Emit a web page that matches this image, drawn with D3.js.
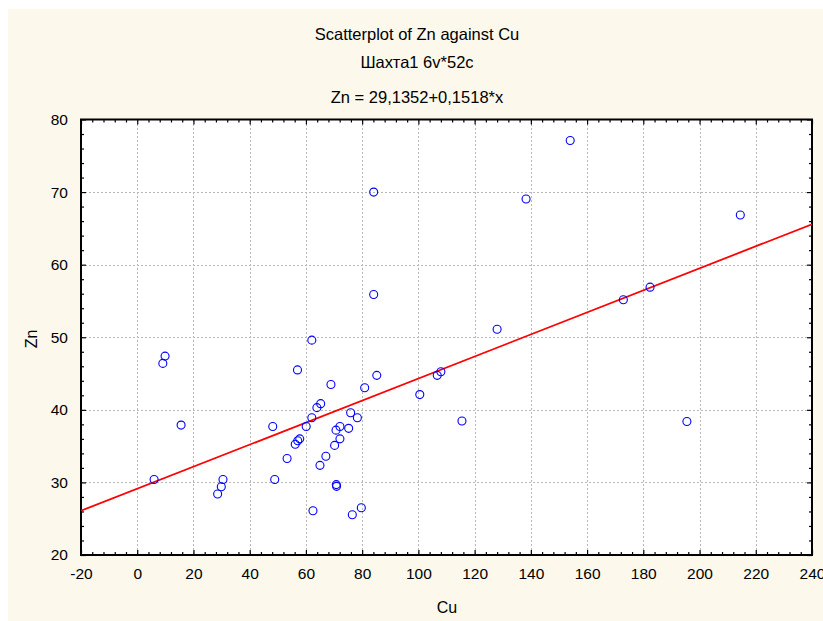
<!DOCTYPE html>
<html>
<head>
<meta charset="utf-8">
<script src="https://cdn.jsdelivr.net/npm/d3@7"></script>
<style>
  html, body { margin: 0; padding: 0; background: #ffffff; }
  svg { display: block; }
  text { font-family: "Liberation Sans", Arial, sans-serif; fill: #000; }
</style>
</head>
<body>
<div id="chart"></div>
<script>
// ---- Data ----
const cuValues = [6.0, 9.1, 9.9, 15.6, 28.6, 29.9, 30.5, 48.2, 48.9, 53.3,
  57.0, 62.1, 56.2, 57.1, 57.8, 60.1, 62.1, 63.9, 65.25, 68.9,
  65.0, 67.1, 62.5, 70.2, 70.7, 72.1, 72.1, 70.8, 70.9, 75.2,
  75.9, 78.3, 76.5, 79.7, 80.9, 85.2, 100.5, 106.7, 108.0, 115.5,
  128.0, 84.1, 84.1, 154.0, 138.3, 214.5, 172.9, 182.4, 195.5];
const znValues = [30.4, 46.4, 47.4, 37.9, 28.4, 29.4, 30.4, 37.7, 30.4, 33.3,
  45.5, 49.6, 35.25, 35.75, 36.0, 37.7, 38.9, 40.3, 40.85, 43.5,
  32.35, 33.6, 26.1, 35.1, 37.2, 37.7, 36.0, 29.7, 29.46, 37.45,
  39.6, 38.9, 25.55, 26.5, 43.05, 44.75, 42.1, 44.75, 45.25, 38.46,
  51.1, 70.0, 55.9, 77.1, 69.05, 66.84, 55.17, 56.9, 38.4];
const fitIntercept = 29.1352;
const fitSlope = 0.1518;
const xTicks = [-20, 0, 20, 40, 60, 80, 100, 120, 140, 160, 180, 200, 220, 240];
const yTicks = [20, 30, 40, 50, 60, 70, 80];
const titleLines = ["Scatterplot of Zn against Cu", "Шахта1 6v*52c", "Zn = 29,1352+0,1518*x"];
const xLabel = "Cu";
const yLabel = "Zn";

// ---- Layout ----
const W = 823, H = 621;
const L = 81, R = 812, T = 119.5, B = 555;

const svg = d3.select("#chart").append("svg").attr("width", W).attr("height", H);

svg.append("rect").attr("x", 8).attr("y", 9).attr("width", W - 8).attr("height", H - 9)
  .attr("fill", "#fdf8ec");
svg.append("rect").attr("x", L).attr("y", T).attr("width", R - L).attr("height", B - T)
  .attr("fill", "#ffffff");

const x = d3.scaleLinear().domain([-20, 240]).range([L, R]);
const y = d3.scaleLinear().domain([20, 80]).range([B, T]);

// Grid
const grid = svg.append("g").attr("stroke", "#b8b8b8").attr("stroke-width", 1)
  .attr("stroke-dasharray", "2,2").attr("shape-rendering", "crispEdges");
grid.selectAll("line.gx").data(xTicks.slice(1, -1)).join("line")
  .attr("class", "gx")
  .attr("x1", d => Math.round(x(d)) + 0.5).attr("x2", d => Math.round(x(d)) + 0.5)
  .attr("y1", T).attr("y2", B);
grid.selectAll("line.gy").data(yTicks.slice(1, -1)).join("line")
  .attr("class", "gy")
  .attr("x1", L).attr("x2", R)
  .attr("y1", d => Math.round(y(d)) + 0.5).attr("y2", d => Math.round(y(d)) + 0.5);

// Minor tick values
const xMinor = d3.range(-20, 240.001, 4).filter(v => !xTicks.includes(Math.round(v)));
const yMinor = d3.range(20, 80.001, 2).filter(v => !yTicks.includes(Math.round(v)));

const fmt = d => String(d);
function styleAxis(g) {
  g.select(".domain").remove();
  g.selectAll(".tick line").attr("stroke", "#000").attr("stroke-width", 1.2);
  g.selectAll(".tick text").style("font-size", "15.5px").style("font-family", "'Liberation Sans', Arial, sans-serif");
}
function plainTicks(g) {
  g.select(".domain").remove();
  g.selectAll("line").attr("stroke", "#000").attr("stroke-width", 1.2);
}

// Bottom axis (inward ticks)
const gx = svg.append("g").attr("transform", `translate(0,${B})`)
  .call(d3.axisBottom(x).tickValues(xTicks).tickSize(-5).tickPadding(13).tickFormat(fmt));
styleAxis(gx);
svg.append("g").attr("transform", `translate(0,${B})`)
  .call(d3.axisBottom(x).tickValues(xMinor).tickSize(-3).tickFormat("")).call(plainTicks);
// Top axis ticks
svg.append("g").attr("transform", `translate(0,${T})`)
  .call(d3.axisTop(x).tickValues(xTicks).tickSize(-5).tickFormat("")).call(plainTicks);
svg.append("g").attr("transform", `translate(0,${T})`)
  .call(d3.axisTop(x).tickValues(xMinor).tickSize(-3).tickFormat("")).call(plainTicks);

// Left axis
const gy = svg.append("g").attr("transform", `translate(${L},0)`)
  .call(d3.axisLeft(y).tickValues(yTicks).tickSize(-5).tickPadding(13).tickFormat(fmt));
styleAxis(gy);
svg.append("g").attr("transform", `translate(${L},0)`)
  .call(d3.axisLeft(y).tickValues(yMinor).tickSize(-3).tickFormat("")).call(plainTicks);
// Right axis ticks
svg.append("g").attr("transform", `translate(${R},0)`)
  .call(d3.axisRight(y).tickValues(yTicks).tickSize(-5).tickFormat("")).call(plainTicks);
svg.append("g").attr("transform", `translate(${R},0)`)
  .call(d3.axisRight(y).tickValues(yMinor).tickSize(-3).tickFormat("")).call(plainTicks);

// Frame
svg.append("rect").attr("x", L).attr("y", T).attr("width", R - L).attr("height", B - T)
  .attr("fill", "none").attr("stroke", "#000").attr("stroke-width", 2);

// Regression line
const clipId = "plotclip";
svg.append("clipPath").attr("id", clipId).append("rect")
  .attr("x", L).attr("y", T).attr("width", R - L).attr("height", B - T);
const fitX = x.domain();
svg.append("line")
  .attr("clip-path", `url(#${clipId})`)
  .attr("x1", x(fitX[0])).attr("y1", y(fitIntercept + fitSlope * fitX[0]))
  .attr("x2", x(fitX[1])).attr("y2", y(fitIntercept + fitSlope * fitX[1]))
  .attr("stroke", "#ff0000").attr("stroke-width", 1.8);

// Points
const pts = cuValues.map((c, i) => ({ cu: c, zn: znValues[i] }));
svg.append("g").selectAll("circle").data(pts).join("circle")
  .attr("cx", d => x(d.cu)).attr("cy", d => y(d.zn)).attr("r", 4)
  .attr("fill", "none").attr("stroke", "#0000ff").attr("stroke-width", 1.1);

// Titles
const titleY = [40, 68, 103];
svg.selectAll("text.title").data(titleLines).join("text")
  .attr("class", "title")
  .attr("x", 417).attr("y", (d, i) => titleY[i])
  .attr("text-anchor", "middle").style("font-size", "16.5px")
  .text(d => d);

// Axis labels
svg.append("text").attr("x", 447).attr("y", 613).attr("text-anchor", "middle")
  .style("font-size", "16px").text(xLabel);
svg.append("text").attr("transform", "translate(37,339) rotate(-90)")
  .attr("text-anchor", "middle").style("font-size", "16px").text(yLabel);
</script>
</body>
</html>
